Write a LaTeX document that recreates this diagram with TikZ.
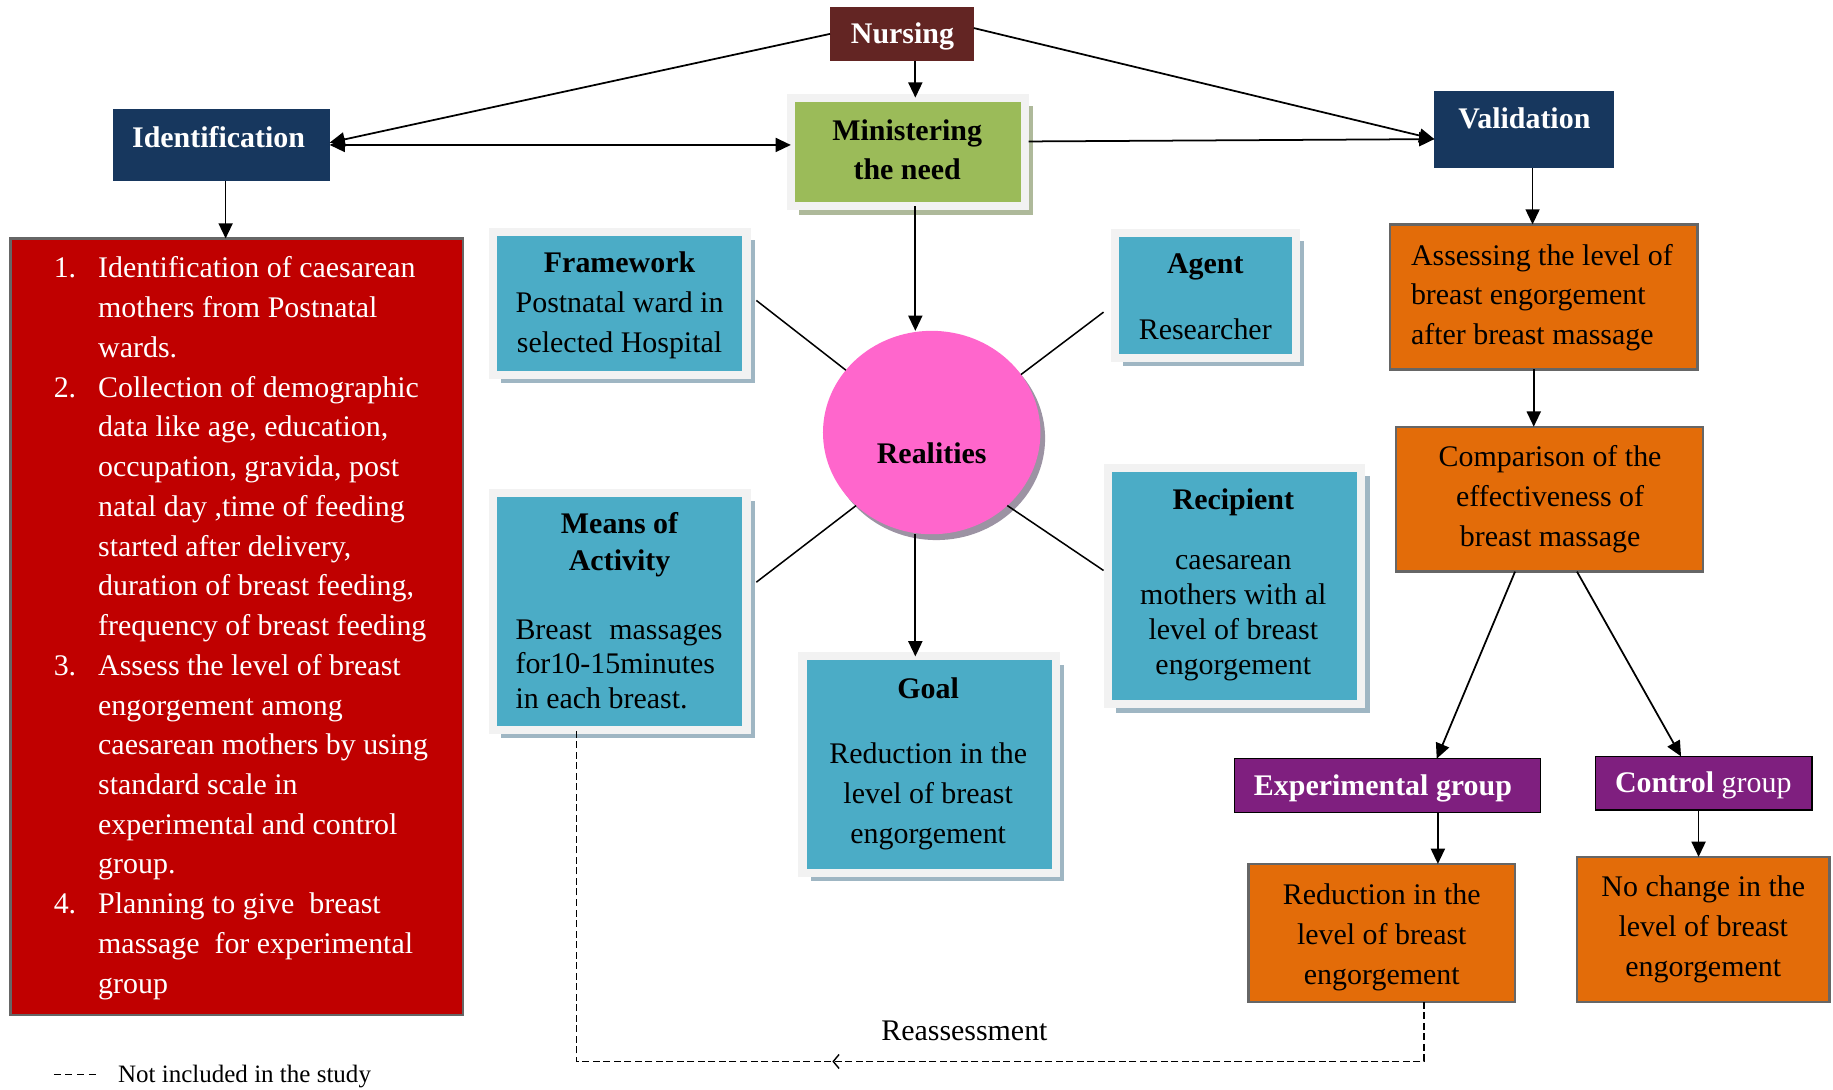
\documentclass[tikz,border=0pt]{standalone}
\usepackage{fontspec}
\setmainfont{Liberation Serif}
\usetikzlibrary{arrows.meta,shadows,calc,decorations.markings,shapes.geometric}
\definecolor{cMaroon}{HTML}{632523}
\definecolor{cNavy}{HTML}{17375E}
\definecolor{cGreen}{HTML}{9BBB59}
\definecolor{cTeal}{HTML}{4BACC6}
\definecolor{cFrame}{HTML}{F2F2F2}
\definecolor{cPink}{HTML}{FF66CC}
\definecolor{cOrange}{HTML}{E36C09}
\definecolor{cPurple}{HTML}{7F1F7F}
\definecolor{cRed}{HTML}{C00000}
\definecolor{cTealShadow}{HTML}{9FB6C3}
\definecolor{cGreenShadow}{HTML}{AEB99A}
\definecolor{cPinkShadow}{HTML}{9C93A3}
\definecolor{cBorder}{HTML}{666666}
\newcommand\itemnum[1]{\makebox[19pt][l]{#1}}
\newcommand\itemind{\hspace*{19pt}}
\begin{document}
\begin{tikzpicture}[x=0.5pt,y=-0.5pt,
  every node/.style={inner sep=0pt, outer sep=0pt, font=\fontsize{12.8}{17}\selectfont},
  plainbox/.style={rectangle, fill=#1},
  tealbox/.style={rectangle, fill=cTeal, draw=cFrame, line width=3.5pt,
     drop shadow={shadow xshift=3.5pt, shadow yshift=-3.5pt, fill=cTealShadow, opacity=1}},
  greenbox/.style={rectangle, fill=cGreen, draw=cFrame, line width=3.5pt,
     drop shadow={shadow xshift=3.5pt, shadow yshift=-3.5pt, fill=cGreenShadow, opacity=1}},
  orangebox/.style={rectangle, fill=cOrange, draw=cBorder, line width=1pt},
  purplebox/.style={rectangle, fill=cPurple, draw=black, line width=0.6pt},
  wtitle/.style={text=white, font=\fontsize{12.8}{17}\selectfont\bfseries},
  btitle/.style={text=black, font=\fontsize{12.8}{17}\selectfont\bfseries},
  ctext/.style={align=center},
  arr/.style={-{Triangle[length=6.5pt,width=6pt]}, line width=0.75pt},
  darr/.style={{Triangle[length=6.5pt,width=6pt]}-{Triangle[length=6.5pt,width=6pt]}, line width=0.75pt},
  spoke/.style={line width=0.65pt},
  dashline/.style={line width=0.7pt, dash pattern=on 3pt off 1.5pt},
]
\useasboundingbox (0,0) rectangle (1568,932);

% top row
\node[plainbox=cMaroon, minimum width=61.5pt, minimum height=23pt] (nursing) at (771.5,29) {};
\node[wtitle] (tnursing) at (772,31) {Nursing};

\node[greenbox, minimum width=100pt, minimum height=46.5pt] (ministering) at (776.5,130) {};
\node[btitle, ctext] (tministering) at (776,128) {Ministering\\the need};

\node[plainbox=cNavy, minimum width=92.5pt, minimum height=31pt] (identification) at (189.5,124) {};
\node[wtitle] (tidentification) at (187,117) {Identification};

\node[plainbox=cNavy, minimum width=77pt, minimum height=33pt] (validation) at (1304,111) {};
\node[wtitle] (tvalidation) at (1304,101) {Validation};

% red list
\node[rectangle, fill=cRed, draw=cBorder, line width=1pt, minimum width=193.5pt, minimum height=332pt] (redbox) at (202.5,536) {};
\node[anchor=north west, align=left, text=white] (redlist) at (46,219.6) {%
\itemnum{1.}Identification of caesarean\\
\itemind mothers from Postnatal\\
\itemind wards.\\
\itemnum{2.}Collection of demographic\\
\itemind data like age, education,\\
\itemind occupation, gravida, post\\
\itemind natal day ,time of feeding\\
\itemind started after delivery,\\
\itemind duration of breast feeding,\\
\itemind frequency of breast feeding\\
\itemnum{3.}Assess the level of breast\\
\itemind engorgement among\\
\itemind caesarean mothers by using\\
\itemind standard scale in\\
\itemind experimental and control\\
\itemind group.\\
\itemnum{4.}Planning to give\ \ breast\\
\itemind massage\ \ for experimental\\
\itemind group};

% teal boxes
\node[tealbox, minimum width=108.5pt, minimum height=61pt] (framework) at (530,259.5) {};
\node[ctext] (tframework) at (530,261) {\textbf{Framework}\\Postnatal ward in\\selected Hospital};

\node[tealbox, minimum width=77.5pt, minimum height=53.5pt] (agent) at (1031,253) {};
\node[ctext] (tagent) at (1031,254) {\textbf{Agent}\\[11pt]Researcher};

\node[tealbox, minimum width=108.5pt, minimum height=101.5pt] (means) at (530,523) {};
\node[btitle, ctext, font=\fontsize{12.8}{15.5}\selectfont\bfseries] (tmeans) at (530,466) {Means of\\Activity};
\node[anchor=west, align=left, font=\fontsize{12.8}{14.75}\selectfont] (tmeansbody) at (441,568) {\hbox to 88.5pt{Breast\hfill massages}\\for10-15minutes\\in each breast.};

\node[tealbox, minimum width=108.5pt, minimum height=101pt] (recipient) at (1056,501.5) {};
\node[btitle] (trecipient) at (1055,430) {Recipient};
\node[ctext, font=\fontsize{12.8}{15}\selectfont] (trecipientbody) at (1055,528.5) {caesarean\\mothers with al\\level of breast\\engorgement};

\node[tealbox, minimum width=108.5pt, minimum height=92.5pt] (goal) at (795,654) {};
\node[btitle] (tgoal) at (794,589) {Goal};
\node[ctext] (tgoalbody) at (794,681) {Reduction in the\\level of breast\\engorgement};

% realities
\node[ellipse, fill=cPink, minimum width=93pt, minimum height=87pt,
  drop shadow={shadow xshift=2pt, shadow yshift=-2.5pt, fill=cPinkShadow, opacity=1}] (realities) at (797,370) {};
\node[btitle] (trealities) at (797,388) {Realities};

% right column
\node[orangebox, minimum width=131.5pt, minimum height=62pt] (assessing) at (1320.5,254) {};
\node[anchor=west, align=left] (tassessing) at (1207,254.5) {Assessing the level of\\breast engorgement\\after breast massage};

\node[orangebox, minimum width=131.5pt, minimum height=62pt] (comparison) at (1325.5,427) {};
\node[ctext] (tcomparison) at (1326,427) {Comparison of the\\effectiveness of\\breast massage};

\node[purplebox, minimum width=131pt, minimum height=23pt] (experimental) at (1187,672) {};
\node[wtitle] (texperimental) at (1183,674) {Experimental group};

\node[purplebox, minimum width=92.5pt, minimum height=23pt] (control) at (1457.5,670) {};
\node[text=white] (tcontrol) at (1457,672) {\textbf{Control} group};

\node[orangebox, minimum width=114pt, minimum height=59pt] (reduction) at (1182,798) {};
\node[ctext] (treduction) at (1182,802) {Reduction in the\\level of breast\\engorgement};

\node[orangebox, minimum width=108pt, minimum height=62pt] (nochange) at (1457,795) {};
\node[ctext] (tnochange) at (1457,795) {No change in the\\level of breast\\engorgement};

% connectors
\coordinate (vx) at (783,0);
\coordinate (ix) at (193,0);
\coordinate (vax) at (1311,0);
\coordinate (ax2) at (1312,0);
\coordinate (ex) at (1230,0);
\coordinate (cx) at (1453,0);

\draw[arr] (nursing.south -| vx) -- (ministering.north -| vx);
\draw[arr] (ministering.south -| vx) -- (realities.north -| vx);
\draw[arr] (realities.south -| vx) -- (goal.north -| vx);

\draw[arr] (nursing.west) -- ($(identification.east)+(0,-2)$);
\draw[darr] (identification.east) -- (identification.east -| ministering.west);
\draw[arr] ($(nursing.east)+(0,-5)$) -- ($(validation.west)+(0,8)$);
\draw[arr] ($(ministering.east)+(3.5,-9)$) -- ($(validation.west)+(0,8)$);

\draw[arr] (identification.south -| ix) -- (redbox.north -| ix);

\draw[arr] (validation.south -| vax) -- (assessing.north -| vax);
\draw[arr] (assessing.south -| ax2) -- (comparison.north -| ax2);
\draw[arr] ($(comparison.south)+(-29.5,0)$) -- ($(experimental.north)+(42,0)$);
\draw[arr] ($(comparison.south)+(23.5,0)$) -- ($(control.north)+(-19.5,0)$);
\draw[arr] (experimental.south -| ex) -- (reduction.north -| ex);
\draw[arr] (control.south -| cx) -- (nochange.north -| cx);

\draw[spoke] ($(framework.east)+(8.5,-2.5)$) -- (realities.144);
\draw[spoke] ($(agent.west)+(-9.5,14)$) -- (realities.33);
\draw[spoke] ($(means.east)+(8.5,-25)$) -- (realities.224);
\draw[spoke] ($(recipient.west)+(-3.5,-13.5)$) -- (realities.316);

% reassessment loop
\coordinate (d1) at (1218,908);
\coordinate (d2) at (493,908);
\draw[dashline, postaction={decorate}, decoration={markings,
   mark=at position 278.5pt with {\arrow{Straight Barb[length=2.5pt,width=6pt,line width=0.6pt]}}}]
   (reduction.south -| d1) -- (d1) -- (d2) -- (means.south -| d2);
\node (reassess) at (825,882) {Reassessment};

% legend
\coordinate (lg1) at (46,919);
\coordinate (lg2) at (84,919);
\draw[line width=0.7pt, dash pattern=on 3pt off 2pt] (lg1) -- (lg2);
\node[anchor=west, font=\fontsize{10.7}{13}\selectfont] (legend) at (101,921) {Not included in the study};
\end{tikzpicture}
\end{document}
